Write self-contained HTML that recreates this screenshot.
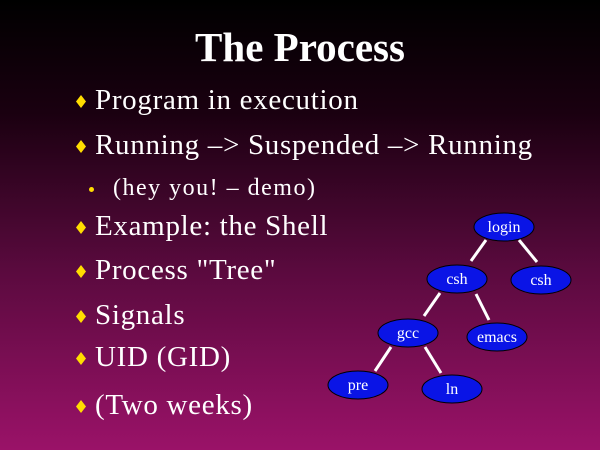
<!DOCTYPE html>
<html><head><style>
body{margin:0;width:600px;height:450px;overflow:hidden;background:linear-gradient(#000 0%,#1a0010 25%,#5a0a3e 60%,#9a1268 100%);font-family:"Liberation Serif",serif;color:#fff;position:relative}
.t{position:absolute;left:0;width:600px;text-align:center;top:23px;font-size:41px;font-weight:bold}
.b{position:absolute;left:95px;font-size:29px;letter-spacing:0.7px;white-space:nowrap;line-height:1}
.d{position:absolute;left:-19px;top:9px;width:10px;height:13px;background:#ffdd00;clip-path:polygon(50% 0,100% 50%,50% 100%,0 50%)}
.s{position:absolute;left:113px;font-size:24px;letter-spacing:1.5px;white-space:nowrap;line-height:1}
.sd{position:absolute;left:-24px;top:11px;width:5px;height:5px;border-radius:50%;background:#ffdd00}
</style></head><body>
<div class="t">The Process</div>
<div class="b" style="top:86px"><span class="d"></span>Program in execution</div>
<div class="b" style="top:131px"><span class="d"></span>Running –&gt; Suspended –&gt; Running</div>
<div class="s" style="top:176px"><span class="sd"></span>(hey you! – demo)</div>
<div class="b" style="top:212px"><span class="d"></span>Example: the Shell</div>
<div class="b" style="top:256px"><span class="d"></span>Process "Tree"</div>
<div class="b" style="top:301px"><span class="d"></span>Signals</div>
<div class="b" style="top:343px"><span class="d"></span>UID (GID)</div>
<div class="b" style="top:391px"><span class="d"></span>(Two weeks)</div>
<svg width="600" height="450" style="position:absolute;left:0;top:0" font-family="Liberation Serif,serif" font-size="16" fill="#fff">
<g stroke="#fff" stroke-width="3">
<line x1="486" y1="240" x2="471" y2="261"/><line x1="519" y1="240" x2="537" y2="262"/>
<line x1="440" y1="293" x2="424" y2="316"/><line x1="476" y1="294" x2="489" y2="320"/>
<line x1="391" y1="347" x2="375" y2="371"/><line x1="425" y1="347" x2="441" y2="373"/>
</g>
<g fill="#0a14e6" stroke="#000" stroke-width="1">
<ellipse cx="504" cy="227" rx="30" ry="14"/><ellipse cx="457" cy="279" rx="30" ry="14"/>
<ellipse cx="541" cy="280" rx="30" ry="14"/><ellipse cx="408" cy="333" rx="30" ry="14"/>
<ellipse cx="497" cy="337" rx="30" ry="14"/><ellipse cx="358" cy="385" rx="30" ry="14"/>
<ellipse cx="452" cy="389" rx="30" ry="14"/>
</g>
<g text-anchor="middle">
<text x="504" y="232">login</text><text x="457" y="284">csh</text><text x="541" y="285">csh</text>
<text x="408" y="338">gcc</text><text x="497" y="342">emacs</text><text x="358" y="390">pre</text><text x="452" y="394">ln</text>
</g>
</svg>
</body></html>
